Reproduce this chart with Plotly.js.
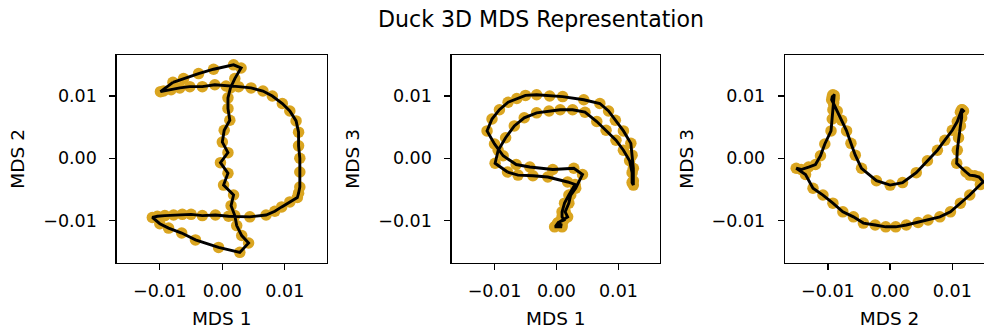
<!DOCTYPE html>
<html><head><meta charset="utf-8">
<script src="https://cdn.plot.ly/plotly-3.0.1.min.js"></script>
<style>html,body{margin:0;padding:0;overflow:hidden;background:#fff}#chart{width:1000px;height:329px}</style>
</head><body><div id="chart"></div>
<script>
// MDS coordinates of the duck image sequence (closed loop)
const mds1 = [-0.0079,-0.0062,-0.0038,-0.0014,0.0018,0.0030,0.0020,0.0013,0.0009,0.0009,0.0012,0.0003,0.0000,0.0009,-0.0003,0.0009,0.0002,0.0018,0.0014,0.0020,0.0023,0.0031,0.0042,0.0028,-0.0006,-0.0043,-0.0065,-0.0086,-0.0100,-0.0112,-0.0104,-0.0092,-0.0078,-0.0064,-0.0050,-0.0032,-0.0011,0.0010,0.0044,0.0070,0.0084,0.0095,0.0108,0.0120,0.0122,0.0124,0.0124,0.0124,0.0122,0.0122,0.0118,0.0108,0.0096,0.0080,0.0065,0.0046,0.0026,0.0006,-0.0012,-0.0032,-0.0052,-0.0068,-0.0082,-0.0094,-0.0099];
const mds2 = [0.0122,0.0128,0.0136,0.0143,0.0150,0.0145,0.0128,0.0113,0.0097,0.0080,0.0061,0.0045,0.0026,0.0009,-0.0007,-0.0024,-0.0043,-0.0059,-0.0076,-0.0092,-0.0108,-0.0124,-0.0136,-0.0151,-0.0143,-0.0131,-0.0120,-0.0112,-0.0105,-0.0095,-0.0093,-0.0092,-0.0091,-0.0090,-0.0090,-0.0092,-0.0091,-0.0093,-0.0094,-0.0091,-0.0085,-0.0078,-0.0070,-0.0063,-0.0056,-0.0046,-0.0022,0.0000,0.0020,0.0042,0.0060,0.0076,0.0088,0.0100,0.0108,0.0113,0.0115,0.0116,0.0118,0.0115,0.0115,0.0113,0.0110,0.0108,0.0107];
const mds3 = [-0.0022,-0.0027,-0.0028,-0.0030,-0.0038,-0.0042,-0.0059,-0.0072,-0.0086,-0.0094,-0.0099,-0.0103,-0.0107,-0.0110,-0.0110,-0.0107,-0.0104,-0.0094,-0.0086,-0.0072,-0.0059,-0.0048,-0.0026,-0.0016,-0.0018,-0.0014,-0.0010,0.0004,0.0023,0.0044,0.0063,0.0078,0.0090,0.0096,0.0101,0.0102,0.0100,0.0099,0.0094,0.0088,0.0076,0.0061,0.0044,0.0024,0.0005,-0.0016,-0.0036,-0.0043,-0.0039,-0.0023,-0.0004,0.0013,0.0029,0.0045,0.0059,0.0074,0.0078,0.0078,0.0076,0.0073,0.0065,0.0052,0.0033,0.0013,-0.0008];

const tickVals = [-0.01, 0, 0.01];
const tickText = ["\u22120.01", "0.00", "0.01"];
const chartTitle = "Duck 3D MDS Representation";

const panels = [
  {x: mds1, y: mds2, xLabel: "MDS 1", yLabel: "MDS 2"},
  {x: mds1, y: mds3, xLabel: "MDS 1", yLabel: "MDS 3"},
  {x: mds2, y: mds3, xLabel: "MDS 2", yLabel: "MDS 3"}
];

const FONT = "DejaVu Sans, Liberation Sans, sans-serif";
const xDomains = [[0.1167, 0.3267], [0.4517, 0.6600], [0.7850, 0.9940]];
const yDomain = [0.2015, 0.8328];
const xRange = [-0.0169, 0.0167];
const yRange = [-0.01676, 0.01658];

const traces = [];
const layout = {
  width: 1000, height: 329,
  margin: {l: 0, r: 0, t: 0, b: 0},
  paper_bgcolor: "#fff", plot_bgcolor: "#fff",
  showlegend: false,
  font: {family: FONT, color: "#000"},
  title: {text: chartTitle, font: {family: FONT, size: 22.1, color: "#000"},
          x: 0.541, xref: "paper", xanchor: "center", y: 0.94, yref: "container", yanchor: "middle"}
};

panels.forEach((p, i) => {
  const n = i === 0 ? "" : String(i + 1);
  const xa = "x" + n, ya = "y" + n;
  traces.push({type: "scatter", mode: "markers", x: p.x, y: p.y, xaxis: xa, yaxis: ya,
    marker: {color: "#DAA520", size: 11.5, line: {width: 0}}, hoverinfo: "skip"});
  traces.push({type: "scatter", mode: "lines", x: p.x.concat([p.x[0]]), y: p.y.concat([p.y[0]]),
    xaxis: xa, yaxis: ya, line: {color: "#000", width: 2.9}, hoverinfo: "skip"});
  const common = {
    showline: true, mirror: true, linecolor: "#000", linewidth: 1.3,
    ticks: "outside", ticklen: 6, tickwidth: 1.3, tickcolor: "#000",
    showgrid: false, zeroline: false, automargin: false,
    tickmode: "array", tickvals: tickVals, ticktext: tickText,
    tickfont: {family: FONT, size: 17.5, color: "#000"}
  };
  layout["xaxis" + n] = Object.assign({}, common, {
    domain: xDomains[i], range: xRange, anchor: ya, ticklabelstandoff: 6,
    title: {text: p.xLabel, font: {family: FONT, size: 18.5, color: "#000"}, standoff: 12}
  });
  layout["yaxis" + n] = Object.assign({}, common, {
    domain: yDomain, range: yRange, anchor: xa, ticklabelstandoff: 9,
    title: {text: p.yLabel, font: {family: FONT, size: 18.5, color: "#000"}, standoff: 13}
  });
});

Plotly.newPlot("chart", traces, layout, {staticPlot: true, displayModeBar: false});
</script>
</body></html>
